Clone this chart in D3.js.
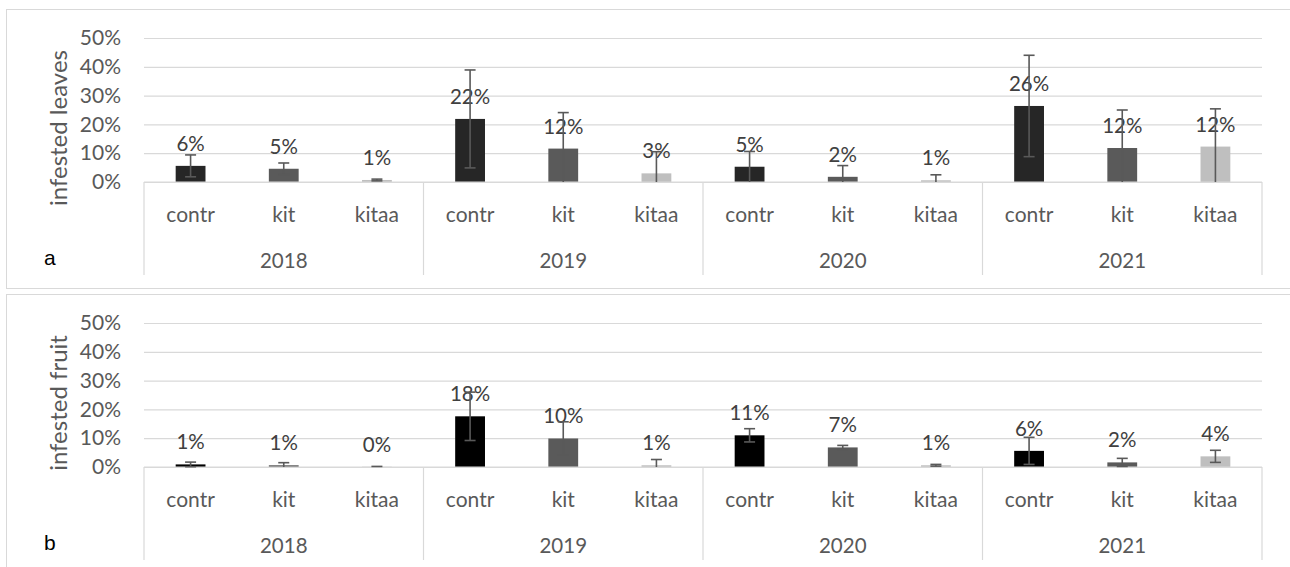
<!DOCTYPE html>
<html>
<head>
<meta charset="utf-8">
<script src="https://cdn.jsdelivr.net/npm/d3@7"></script>
<style>
  body { margin: 0; background: #fff; }
  text { font-family: Lato, "Open Sans", sans-serif; }
</style>
</head>
<body>
<div id="chart"></div>
<script>
// values in percent, order: year x treatment
var years = ["2018", "2019", "2020", "2021"];
var treatments = ["contr", "kit", "kitaa"];
var yTicks = [0, 10, 20, 30, 40, 50];

var leafMean = [5.6, 4.6, 0.7, 21.9, 11.6, 3.0, 5.3, 1.8, 0.6, 26.4, 11.8, 12.3];
var leafErr  = [3.8, 2.0, 0.3, 17.0, 12.5, 7.5, 5.3, 3.9, 1.9, 17.6, 13.2, 13.1];
var fruitMean = [0.9, 0.6, 0.1, 17.6, 9.9, 0.6, 11.0, 6.8, 0.6, 5.6, 1.6, 3.7];
var fruitErr  = [0.8, 0.9, 0.1, 8.4, 5.8, 2.0, 2.3, 0.7, 0.3, 4.7, 1.4, 2.1];

var width = 1290, height = 567;
var plotLeft = 144, plotRight = 1262;

var svg = d3.select("#chart").append("svg")
  .attr("width", width)
  .attr("height", height);

var keys = [];
years.forEach(function(y) {
  treatments.forEach(function(t) { keys.push(y + "|" + t); });
});

var xScale = d3.scaleBand()
  .domain(keys)
  .range([plotLeft, plotRight])
  .paddingInner(0.68)
  .paddingOuter(0.34);

var yearScale = d3.scaleBand()
  .domain(years)
  .range([plotLeft, plotRight]);

var panels = [
  {top: 0, letter: "a", title: "infested leaves", titleY: 128, mean: leafMean, err: leafErr,
   colors: ["#262626", "#5a5a5a", "#bfbfbf"]},
  {top: 285, letter: "b", title: "infested fruit", titleY: 118, mean: fruitMean, err: fruitErr,
   colors: ["#000000", "#5a5a5a", "#bfbfbf"]}
];

panels.forEach(function(p) {
  var g = svg.append("g").attr("transform", "translate(0," + p.top + ")");

  // frame
  g.append("rect")
    .attr("x", 6.5).attr("y", 9.5)
    .attr("width", 1300).attr("height", 279)
    .attr("fill", "none")
    .attr("stroke", "#d9d9d9");

  var yScale = d3.scaleLinear()
    .domain([0, 50])
    .range([182, 38]);

  // gridlines
  g.append("g")
    .attr("transform", "translate(" + plotLeft + ",0)")
    .call(d3.axisLeft(yScale).tickValues(yTicks).tickSize(-(plotRight - plotLeft)).tickFormat(""))
    .call(function(s) {
      s.select(".domain").remove();
      s.selectAll("line").attr("stroke", "#d9d9d9").attr("stroke-width", 1.2);
    });

  // y tick labels
  g.append("g")
    .attr("transform", "translate(" + plotLeft + ",0)")
    .call(d3.axisLeft(yScale).tickValues(yTicks).tickSize(0).tickPadding(23)
      .tickFormat(function(d) { return d + "%"; }))
    .call(function(s) {
      s.select(".domain").remove();
      s.selectAll("text").attr("fill", "#595959").style("font-size", "21px")
        .style("font-family", "Lato, sans-serif");
    });

  // y title
  g.append("text")
    .attr("transform", "translate(57," + p.titleY + ") rotate(-90)")
    .attr("text-anchor", "middle")
    .attr("dominant-baseline", "central")
    .attr("fill", "#595959")
    .style("font-size", "24px")
    .text(p.title);

  // panel letter
  g.append("text")
    .attr("x", 44).attr("y", 265)
    .attr("fill", "#000")
    .style("font-family", "Liberation Sans, Arial, sans-serif")
    .style("font-size", "21px")
    .text(p.letter);

  // category axis: vertical separators
  var seps = years.map(function(y) { return yearScale(y); }).concat([plotRight]);
  g.selectAll(".sep")
    .data(seps)
    .enter().append("line")
    .attr("x1", function(d) { return d; }).attr("x2", function(d) { return d; })
    .attr("y1", 182).attr("y2", 275)
    .attr("stroke", "#d9d9d9").attr("stroke-width", 1.2);

  g.selectAll(".cat")
    .data(keys)
    .enter().append("text")
    .attr("x", function(d) { return xScale(d) + xScale.bandwidth() / 2; })
    .attr("y", 213)
    .attr("text-anchor", "middle")
    .attr("dominant-baseline", "central")
    .attr("fill", "#595959")
    .style("font-size", "21px")
    .text(function(d) { return d.split("|")[1]; });

  g.selectAll(".yr")
    .data(years)
    .enter().append("text")
    .attr("x", function(d) { return yearScale(d) + yearScale.bandwidth() / 2; })
    .attr("y", 260)
    .attr("text-anchor", "middle")
    .attr("dominant-baseline", "central")
    .attr("fill", "#595959")
    .style("font-size", "20.5px")
    .text(function(d) { return d; });

  // bars
  g.selectAll(".bar")
    .data(keys)
    .enter().append("rect")
    .attr("x", function(d) { return xScale(d); })
    .attr("width", xScale.bandwidth())
    .attr("y", function(d, i) { return yScale(p.mean[i]); })
    .attr("height", function(d, i) { return yScale(0) - yScale(p.mean[i]); })
    .attr("fill", function(d, i) { return p.colors[i % 3]; });

  // baseline
  g.append("line")
    .attr("x1", plotLeft).attr("x2", plotRight)
    .attr("y1", yScale(0)).attr("y2", yScale(0))
    .attr("stroke", "#d9d9d9").attr("stroke-width", 1.2);

  // data labels
  g.selectAll(".lbl")
    .data(keys)
    .enter().append("text")
    .attr("x", function(d) { return xScale(d) + xScale.bandwidth() / 2; })
    .attr("y", function(d, i) { return yScale(p.mean[i]) - 23; })
    .attr("text-anchor", "middle")
    .attr("dominant-baseline", "central")
    .attr("fill", "#404040")
    .style("font-size", "20.5px")
    .text(function(d, i) { return Math.round(p.mean[i]) + "%"; });

  // error bars
  var eb = g.selectAll(".err")
    .data(keys)
    .enter().append("g")
    .attr("stroke", "#595959")
    .attr("stroke-width", 1.6);

  eb.each(function(d, i) {
    var cx = xScale(d) + xScale.bandwidth() / 2;
    var hi = p.mean[i] + p.err[i];
    var lo = p.mean[i] - p.err[i];
    var sel = d3.select(this);
    sel.append("line")
      .attr("x1", cx).attr("x2", cx)
      .attr("y1", yScale(hi)).attr("y2", yScale(Math.max(lo, 0)));
    sel.append("line")
      .attr("x1", cx - 5.5).attr("x2", cx + 5.5)
      .attr("y1", yScale(hi)).attr("y2", yScale(hi));
    if (lo > 0) {
      sel.append("line")
        .attr("x1", cx - 5.5).attr("x2", cx + 5.5)
        .attr("y1", yScale(lo)).attr("y2", yScale(lo));
    }
  });
});
</script>
</body>
</html>
